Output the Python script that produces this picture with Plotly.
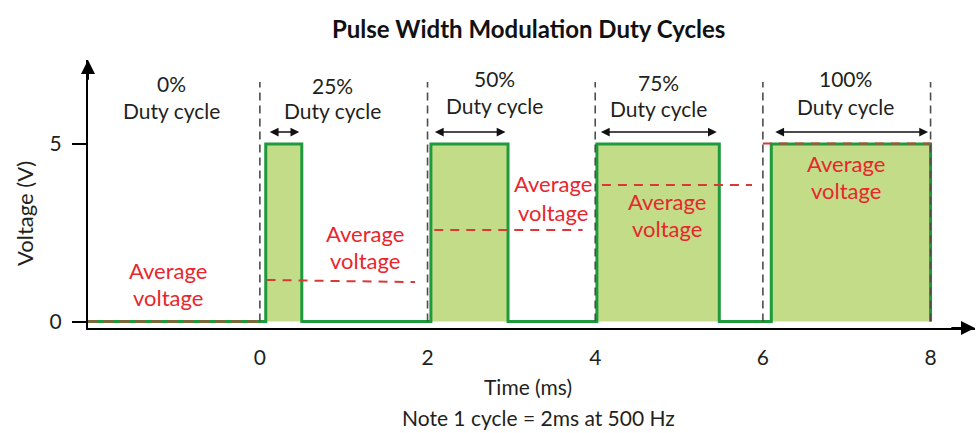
import plotly.graph_objects as go

# ---- data ----
duty_labels = ["0%", "25%", "50%", "75%", "100%"]
cycle_bounds_ms = [0, 2, 4, 6, 8]
pulse_rise_ms = [0.07, 2.04, 4.02, 6.10]
pulse_fall_ms = [0.50, 2.96, 5.48, 8.00]
high_v = 5
low_v = 0
avg_start_ms = [-2.05, 0.08, 2.08, 4.08, 6.00]
avg_end_ms = [0.00, 1.85, 3.85, 5.87, 8.00]
avg_v_start = [0.00, 1.17, 2.58, 3.85, 5.02]
avg_v_end = [0.00, 1.11, 2.58, 3.85, 5.02]
x_ticks = [0, 2, 4, 6, 8]
y_ticks = [0, 5]

# ---- layout constants ----
W, H = 976, 433
ML, MR, MT, MB = 88, 1, 60, 105
XMIN, XMAX = -2.05, 8.53
YMIN, YMAX = -0.183, 7.37
FONT = "Lato"
TXT = "#231f20"
RED = "#e8262d"
RED_LINE = "#d8383a"
GREEN = "#1e9a3d"
FILL = "#c3dc88"

fig = go.Figure()

# pulse train (step line with fill)
px_ = [XMIN]
py_ = [low_v]
for r, f in zip(pulse_rise_ms, pulse_fall_ms):
    px_ += [r, f]
    py_ += [high_v, low_v]
px_.append(pulse_fall_ms[-1])
py_.append(low_v)
fig.add_trace(go.Scatter(x=px_, y=py_, mode="lines", line=dict(color=GREEN, width=3, shape="hv"),
                         fill="tozeroy", fillcolor=FILL, hoverinfo="skip", showlegend=False))

# vertical dashed cycle boundaries
vx, vy = [], []
for b in cycle_bounds_ms:
    vx += [b, b, None]
    vy += [low_v, 6.75, None]
fig.add_trace(go.Scatter(x=vx, y=vy, mode="lines", line=dict(color="#4d4d4d", width=1.6, dash="8px,5px"),
                         hoverinfo="skip", showlegend=False))

# average voltage lines
ax_, ay_ = [], []
for s, e, v0, v1 in zip(avg_start_ms, avg_end_ms, avg_v_start, avg_v_end):
    ax_ += [s, e, None]
    ay_ += [v0, v1, None]
fig.add_trace(go.Scatter(x=ax_, y=ay_, mode="lines", line=dict(color=RED_LINE, width=2, dash="9px,7px"),
                         hoverinfo="skip", showlegend=False))

ann = []
# duty cycle labels
duty_x = [-1.05, 0.87, 2.80, 4.76, 6.98]
duty_pct_y = [6.72, 6.66, 6.86, 6.75, 6.86]
duty_txt_y = [5.96, 5.96, 6.10, 6.01, 6.07]
for lab, x, y1, y2 in zip(duty_labels, duty_x, duty_pct_y, duty_txt_y):
    ann.append(dict(x=x, y=y1, text=lab, showarrow=False, font=dict(family=FONT, size=21, color=TXT)))
    ann.append(dict(x=x, y=y2, text="Duty cycle", showarrow=False, font=dict(family=FONT, size=21, color=TXT)))

# average voltage labels
avg_lab_x = [-1.09, 1.25, 3.50, 4.86, 6.99]
avg_lab_y1 = [1.45, 2.49, 3.90, 3.37, 4.44]
avg_lab_y2 = [0.69, 1.73, 3.08, 2.63, 3.68]
for x, y1, y2 in zip(avg_lab_x, avg_lab_y1, avg_lab_y2):
    ann.append(dict(x=x, y=y1, text="Average", showarrow=False, font=dict(family=FONT, size=22, color=RED)))
    ann.append(dict(x=x, y=y2, text="voltage", showarrow=False, font=dict(family=FONT, size=22, color=RED)))

# double-headed width arrows
for r, f in zip(pulse_rise_ms, pulse_fall_ms):
    ann.append(dict(x=f - 0.03, y=5.34, ax=r + 0.03, ay=5.34, axref="x", ayref="y", xref="x", yref="y",
                    text="", showarrow=True, arrowhead=2, arrowside="end+start", arrowsize=1.1,
                    arrowwidth=1.6, arrowcolor="#111"))

# axis arrows
ann.append(dict(x=XMIN, y=YMAX, ax=XMIN, ay=YMAX - 0.6, axref="x", ayref="y", text="", showarrow=True,
                arrowhead=2, arrowsize=1.4, arrowwidth=2, arrowcolor="#000"))
ann.append(dict(x=XMAX, y=YMIN, ax=XMAX - 0.3, ay=YMIN, axref="x", ayref="y", text="", showarrow=True,
                arrowhead=2, arrowsize=1.4, arrowwidth=2, arrowcolor="#000"))

pw, ph = W - ML - MR, H - MT - MB
def pxx(p):
    return (p - ML) / pw
def pyy(p):
    return (H - MB - p) / ph

def paper_text(x, y, text, size, color=TXT, angle=0):
    return dict(xref="paper", yref="paper", x=pxx(x), y=pyy(y), text=text, textangle=angle,
                xanchor="center", yanchor="middle", showarrow=False,
                font=dict(family=FONT, size=size, color=color))

ann.append(paper_text(528, 28, "<b>Pulse Width Modulation Duty Cycles</b>", 24, "#111"))
ann.append(paper_text(528, 386, "Time (ms)", 21))
ann.append(paper_text(538, 417, "Note 1 cycle = 2ms at 500 Hz", 21))
ann.append(paper_text(24, 214, "Voltage (V)", 22, angle=-90))

fig.update_layout(
    width=W, height=H, margin=dict(l=ML, r=MR, t=MT, b=MB),
    paper_bgcolor="white", plot_bgcolor="white",
    annotations=ann, showlegend=False,
    xaxis=dict(range=[XMIN, XMAX], tickvals=x_ticks, ticktext=[str(t) for t in x_ticks], automargin=False,
               showline=True, linecolor="#000", linewidth=2, ticks="", showgrid=False, zeroline=False,
               ticklabelstandoff=10, tickfont=dict(family=FONT, size=21, color=TXT), fixedrange=True),
    yaxis=dict(range=[YMIN, YMAX], tickvals=y_ticks, ticktext=[str(t) for t in y_ticks], automargin=False,
               showline=True, linecolor="#000", linewidth=2, ticks="outside", ticklen=14, tickwidth=2,
               tickcolor="#000", showgrid=False, zeroline=False, ticklabelstandoff=6,
               tickfont=dict(family=FONT, size=21, color=TXT), fixedrange=True),
)

fig.write_html("out.html", config={"displayModeBar": False},
               post_script="document.body.style.margin='0';document.body.style.overflow='hidden';")
